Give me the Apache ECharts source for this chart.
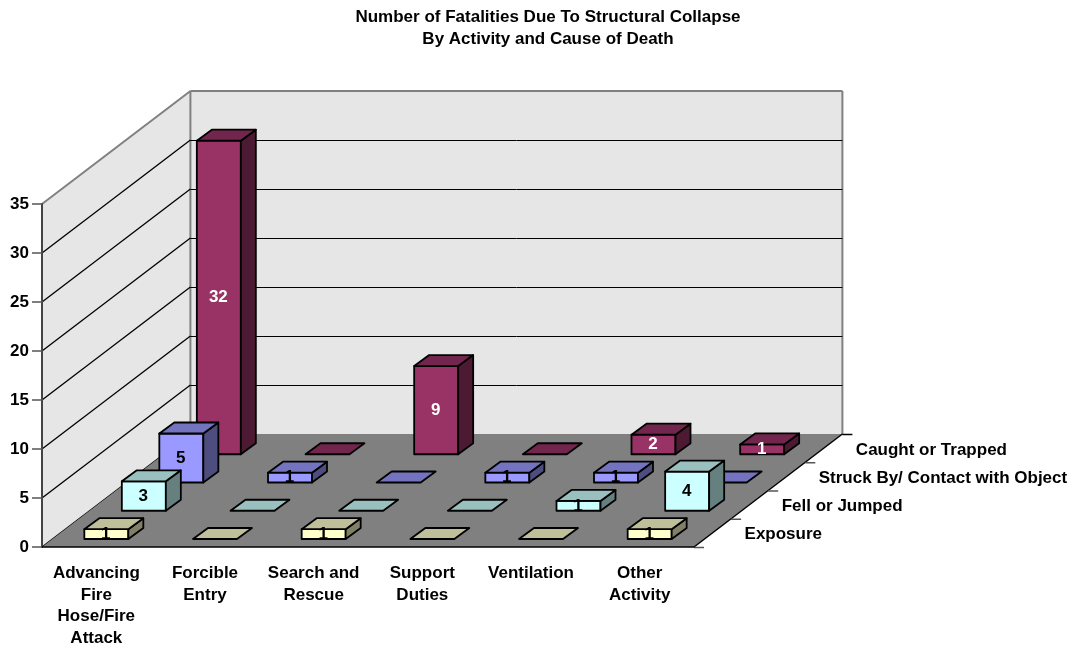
<!DOCTYPE html>
<html>
<head>
<meta charset="utf-8">
<script src="https://cdn.jsdelivr.net/npm/echarts@6/dist/echarts.min.js"></script>
<style>html,body{margin:0;padding:0;background:#fff}#c{width:1076px;height:648px}</style>
</head>
<body>
<div id="c"></div>
<script>
var categories = ['Advancing\nFire\nHose/Fire\nAttack', 'Forcible\nEntry', 'Search and\nRescue', 'Support\nDuties', 'Ventilation', 'Other\nActivity'];
var rowNames = ['Exposure', 'Fell or Jumped', 'Struck By/ Contact with Object', 'Caught or Trapped'];
var exposure = [1, 0, 1, 0, 0, 1];
var fellOrJumped = [3, 0, 0, 0, 1, 4];
var struckBy = [5, 1, 0, 1, 1, 0];
var caughtOrTrapped = [32, 0, 9, 0, 2, 1];
var yTicks = [0, 5, 10, 15, 20, 25, 30, 35];

var rowValues = [exposure, fellOrJumped, struckBy, caughtOrTrapped];
var frontColors = ['#FFFFCC', '#CCFFFF', '#9999FF', '#993366'];
var topColors = ['#BFBF99', '#99BFBF', '#7373BF', '#73264D'];
var sideColors = ['#808066', '#668080', '#4D4D80', '#4D1A33'];
var labelColors = ['#000', '#000', '#000', '#fff'];

var DX = 37.1, DY = 28.25, BAR_DX = 37.5;   // projection of one depth row
var ROWS = rowNames.length;
var font = 'Liberation Sans, Arial, sans-serif';

function bounds(api) {
  var band = api.size([1, 0])[0];
  var left = api.coord([0, 0])[0] - band / 2;
  var right = left + band * categories.length;
  var base = api.coord([0, 0])[1];
  var top = api.coord([0, 35])[1];
  return {left: left, right: right, base: base, top: top, band: band};
}
function poly(points, fill, stroke, lw) {
  return {type: 'polygon', shape: {points: points}, style: {fill: fill, stroke: stroke || null, lineWidth: lw || 0, lineJoin: 'round'}};
}
function line(x1, y1, x2, y2, stroke, lw) {
  return {type: 'line', shape: {x1: x1, y1: y1, x2: x2, y2: y2}, style: {stroke: stroke, lineWidth: lw}};
}

function renderShell(params, api) {
  var b = bounds(api), ox = DX * ROWS, oy = DY * ROWS;
  return {type: 'group', children: [
    poly([[b.left, b.base], [b.left, b.top], [b.left + ox, b.top - oy], [b.left + ox, b.base - oy]], '#E6E6E6'),
    poly([[b.left + ox, b.base - oy], [b.left + ox, b.top - oy], [b.right + ox, b.top - oy], [b.right + ox, b.base - oy]], '#E6E6E6'),
    line(b.left, b.top, b.left + ox, b.top - oy, '#808080', 2),
    line(b.left + ox, b.top - oy, b.right + ox, b.top - oy, '#808080', 2),
    line(b.left + ox, b.top - oy, b.left + ox, b.base - oy, '#808080', 2),
    line(b.right + ox, b.top - oy, b.right + ox, b.base - oy, '#808080', 2)
  ]};
}
function renderGrid(params, api) {
  var v = api.value(1);
  if (v === 35) return {type: 'group', children: []};
  var b = bounds(api), ox = DX * ROWS, oy = DY * ROWS, y = api.coord([0, v])[1];
  return {type: 'group', children: [
    line(b.left, y, b.left + ox, y - oy, '#000', 1.3),
    line(b.left + ox, y - oy + .5, b.right + ox, y - oy + .5, '#000', 1)
  ]};
}
function renderFloor(params, api) {
  var b = bounds(api), ox = DX * ROWS, oy = DY * ROWS, kids = [
    poly([[b.left, b.base], [b.right, b.base], [b.right + ox, b.base - oy], [b.left + ox, b.base - oy]], '#808080'),
    line(b.right, b.base, b.right + ox, b.base - oy, '#000', 1.5)
  ];
  for (var r = 0; r <= ROWS; r++) {
    kids.push(line(b.right + r * DX, b.base - r * DY + .5, b.right + r * DX + 10, b.base - r * DY + .5, r === ROWS ? '#000' : '#555', 1.5));
  }
  rowNames.forEach(function (name, r) {
    kids.push({type: 'text', style: {
      x: b.right + (r + .5) * DX + 32, y: b.base - (r + .5) * DY + 1.7,
      text: name, fill: '#000', fontFamily: font, fontWeight: 'bold', fontSize: 17,
      align: 'left', verticalAlign: 'middle'
    }});
  });
  return {type: 'group', children: kids};
}
function makeBar(r) {
  return function (params, api) {
    var cat = api.value(0), v = api.value(1), c = api.coord([cat, 0]), t = api.coord([cat, v]);
    var bw = 44, dpx = 15, dpy = 11;
    var cx = c[0] + r * BAR_DX + 10;
    var x0 = cx - bw / 2, x1 = cx + bw / 2;
    var yb = c[1] - r * DY - 8, yt = t[1] - r * DY - 8;
    var kids = [];
    var stroke = '#000';
    if (v > 0) {
      kids.push(poly([[x0, yb], [x1, yb], [x1, yt], [x0, yt]], frontColors[r], stroke, 1.8));
      kids.push(poly([[x1, yb], [x1 + dpx, yb - dpy], [x1 + dpx, yt - dpy], [x1, yt]], sideColors[r], stroke, 1.8));
    }
    kids.push(poly([[x0, yt], [x1, yt], [x1 + dpx, yt - dpy], [x0 + dpx, yt - dpy]], topColors[r], stroke, 1.8));
    if (v > 0) {
      kids.push({type: 'text', style: {
        x: cx - 0.5, y: (yb + yt) / 2, text: String(v), fill: labelColors[r],
        fontFamily: font, fontWeight: 'bold', fontSize: 17, align: 'center', verticalAlign: 'middle'
      }});
    }
    return {type: 'group', children: kids};
  };
}

var series = [
  {type: 'custom', name: 'shell', renderItem: renderShell, data: [[0, 35]], silent: true, animation: false},
  {type: 'custom', name: 'grid', renderItem: renderGrid, data: yTicks.map(function (t) { return [0, t]; }), silent: true, animation: false},
  {type: 'custom', name: 'floor', renderItem: renderFloor, data: [[0, 0]], silent: true, animation: false}
];
for (var r = ROWS - 1; r >= 0; r--) {
  series.push({
    type: 'custom', name: rowNames[r], renderItem: makeBar(r), silent: true, animation: false,
    data: rowValues[r].map(function (v, i) { return [i, v]; })
  });
}

var chart = echarts.init(document.getElementById('c'), null, {renderer: 'canvas'});
chart.setOption({
  backgroundColor: '#fff',
  animation: false,
  title: {
    text: 'Number of Fatalities Due To Structural Collapse\nBy Activity and Cause of Death',
    left: 543, top: 1, textAlign: 'center',
    textStyle: {fontFamily: font, fontWeight: 'bold', fontSize: 17, lineHeight: 22, color: '#000'}
  },
  grid: {left: 42, right: 382, top: 204, bottom: 101, containLabel: false, outerBoundsMode: 'none'},
  xAxis: {
    type: 'category', data: categories, z: 3,
    axisLine: {lineStyle: {color: '#000', width: 1.5}},
    axisTick: {alignWithLabel: false, length: 10, lineStyle: {color: '#555', width: 1.5}},
    axisLabel: {interval: 0, margin: 16, fontFamily: font, fontWeight: 'bold', fontSize: 17, lineHeight: 21.5, color: '#000'}
  },
  yAxis: {
    type: 'value', min: 0, max: 35, interval: 5, z: 3,
    splitLine: {show: false},
    axisLine: {show: true, lineStyle: {color: '#444', width: 2}},
    axisTick: {show: true, length: 10, lineStyle: {color: '#555', width: 1.5}},
    axisLabel: {margin: 13, fontFamily: font, fontWeight: 'bold', fontSize: 17, color: '#000'}
  },
  series: series
});
</script>
</body>
</html>
